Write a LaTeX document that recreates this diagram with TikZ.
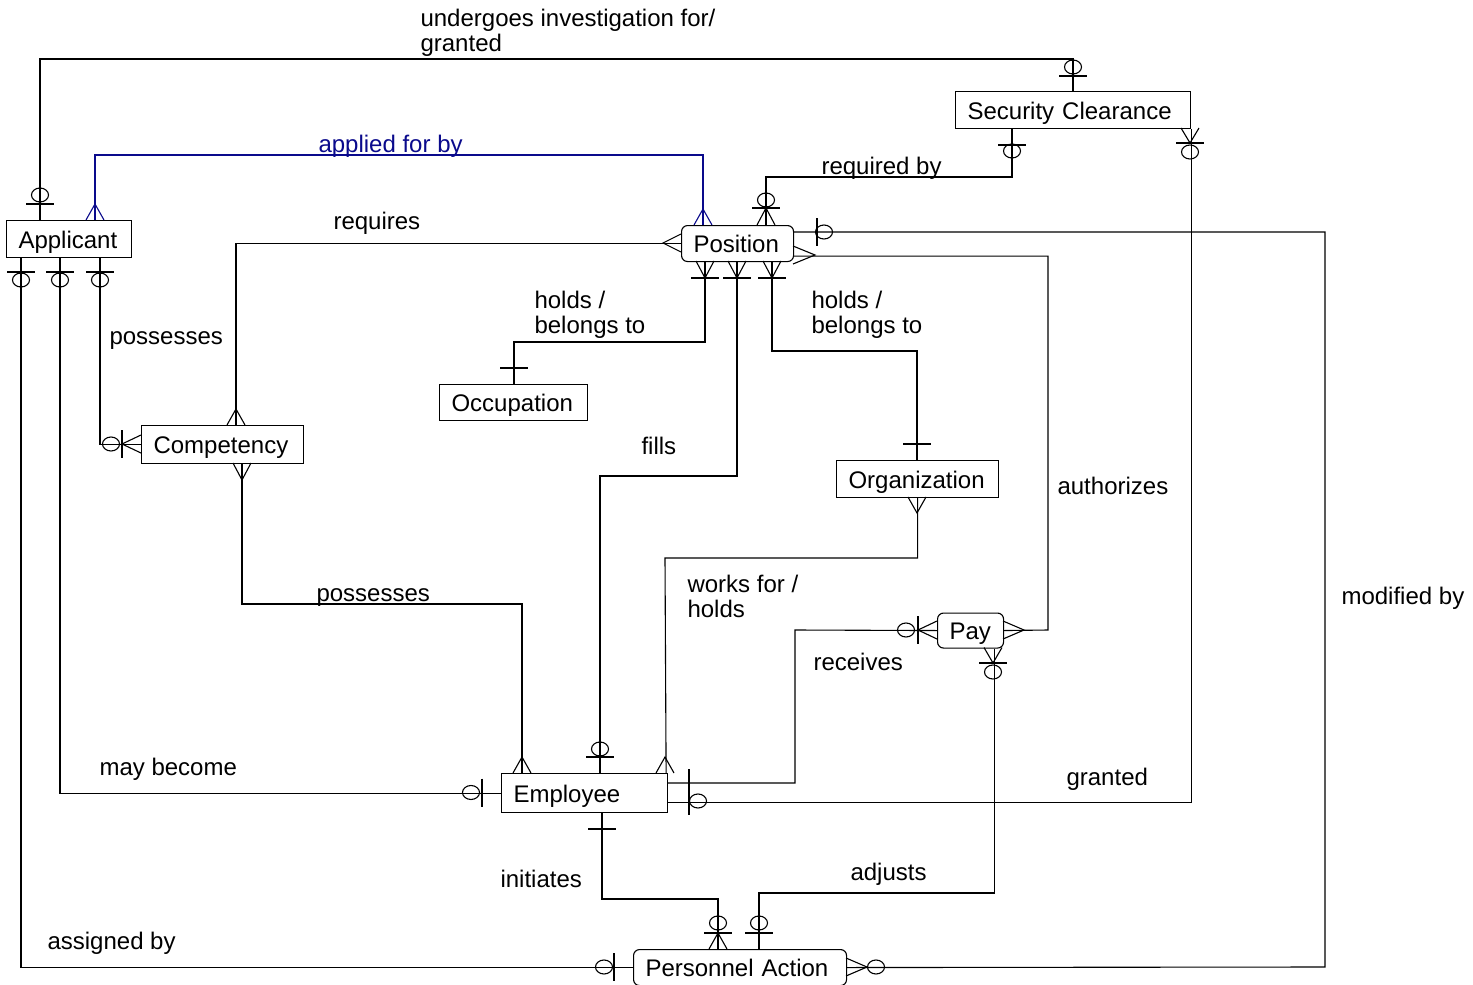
\documentclass[tikz,border=0pt]{standalone}
\usepackage{fontspec}
\setmainfont{Liberation Sans}
\usetikzlibrary{calc}
\definecolor{erblue}{RGB}{10,10,140}
\newcommand\erHbar[2]{\draw (#1-14,#2) -- (#1+14,#2);}
\newcommand\erVbar[2]{\draw (#1,#2-14) -- (#1,#2+14);}
\newcommand\erRing[2]{\draw (#1,#2) ellipse [x radius=8.5, y radius=7];}
\newcommand\erCrowV[3]{\draw (#1-9,#3) -- (#1,#2) -- (#1+9,#3);}
\newcommand\erCrowH[3]{\draw (#3,#1-9) -- (#2,#1) -- (#3,#1+9);}
\begin{document}
\begin{tikzpicture}[x=1pt,y=-1pt,line width=1.1pt,
  every node/.style={font=\fontsize{24}{29}\selectfont},
  ent/.style={draw, anchor=north west, inner xsep=12pt, inner ysep=0pt, align=left, text height=20pt, text depth=2pt},
  rent/.style={ent, rounded corners=6pt},
  lbl/.style={anchor=base west, inner sep=0pt}]
\fill[white] (0,0) rectangle (1473,985);
\useasboundingbox (0,0) rectangle (1473,985);

% entities
\node[ent,  text width=101pt, minimum height=37pt] (app)  at (6,220)    {Applicant};
\node[rent, text width=88pt,  minimum height=36pt] (pos)  at (681,225)  {Position};
\node[ent,  text width=211pt, minimum height=37pt] (sec)  at (955,91)   {Security Clearance};
\node[ent,  text width=124pt, minimum height=36pt] (occ)  at (439,384)  {Occupation};
\node[ent,  text width=138pt, minimum height=38pt] (comp) at (141,425)  {Competency};
\node[ent,  text width=138pt, minimum height=37pt] (org)  at (836,460)  {Organization};
\node[ent,  text width=142pt, minimum height=39pt] (emp)  at (501,773)  {Employee};
\node[rent, text width=42pt,  minimum height=35pt] (pay)  at (937,612.5) {Pay};
\node[rent, text width=189pt, minimum height=36pt] (pa)   at (633,949)  {Personnel Action};

% 1 undergoes investigation for / granted
\draw ($(app.north west)+(34,0)$) |- (1073,59) -- ($(sec.north west)+(118,0)$);
\erHbar{40}{204}\erRing{40}{195}
\erRing{1073}{67}\erHbar{1073}{76}

% 2 applied for by (blue)
\begin{scope}[draw=erblue]
\draw ($(app.north west)+(89,0)$) |- (703,155) -- ($(pos.north west)+(22,0)$);
\erCrowV{95}{204}{220}
\erCrowV{703}{209}{225}
\end{scope}

% 3 requires
\draw (pos.west) -| ($(comp.north west)+(95,0)$);
\erCrowH{243}{663}{681}
\erCrowV{236}{409}{425}

% 4 possesses (applicant - competency)
\draw ($(app.south west)+(94,0)$) |- (comp.west);
\erHbar{100}{272}\erRing{100}{280}
\erCrowH{444}{122}{141}\erVbar{122}{444}\erRing{111}{444}

% 5 may become
\draw ($(app.south west)+(54,0)$) |- (emp.west);
\erHbar{60}{272}\erRing{60}{280}
\erVbar{482}{792.5}\erRing{471}{792.5}

% 6 assigned by
\draw ($(app.south west)+(15,0)$) |- (pa.west);
\erHbar{21}{272}\erRing{21}{280}
\erVbar{614}{967}\erRing{604}{967}

% 7 required by
\draw ($(sec.south west)+(57,0)$) |- (766,177) -- ($(pos.north west)+(85,0)$);
\erHbar{1012}{145}\erRing{1012}{151}
\erCrowV{766}{208}{225}\erHbar{766}{208}\erRing{766}{200}

% 8 granted
\draw (sec.south east) |- ($(emp.south east)+(0,-11)$);
\erCrowV{1190}{143}{128}\erHbar{1190}{143}\erRing{1190}{152}
\erVbar{689}{801}\erRing{698}{801}

% 9 modified by
\draw ($(pos.north east)+(0,7)$) -| (1325,967) -- (pa.east);
\erVbar{817}{232}\erRing{824}{232}
\erCrowH{967}{867}{846}\erRing{876}{967}

% 10 holds / belongs to (occupation)
\draw ($(pos.south west)+(24,0)$) |- (514,342) -- ($(occ.north west)+(75,0)$);
\erCrowV{705}{278}{261}\erHbar{705}{278}
\erHbar{514}{368}

% 11 fills
\draw ($(pos.south west)+(56,0)$) |- (600,476) -- ($(emp.north west)+(99,0)$);
\erCrowV{737}{278}{261}\erHbar{737}{278}
\erHbar{600}{757}\erRing{600}{749}

% 12 holds / belongs to (organization)
\draw ($(pos.south west)+(91,0)$) |- (917,351) -- ($(org.north west)+(81,0)$);
\erCrowV{772}{278}{261}\erHbar{772}{278}
\erHbar{917}{444}

% 13 authorizes
\draw ($(pos.south east)+(0,-6)$) -| (1048,630) -- (pay.east);
\erCrowH{255}{815}{793}
\erCrowH{630}{1024}{1003}

% 14 works for / holds
\draw (org.south) |- (665,558) -- ($(emp.north east)+(-2,0)$);
\erCrowV{917}{513}{497}
\erCrowV{665}{757}{773}

% 15 possesses (competency - employee)
\draw ($(comp.south west)+(101,0)$) |- (522,604) -- ($(emp.north west)+(21,0)$);
\erCrowV{242}{480}{463}
\erCrowV{522}{757}{773}

% 16 receives
\draw ($(emp.north east)+(0,10)$) -| (795,630) -- (pay.west);
\erVbar{689}{783}
\erCrowH{630}{918}{937}\erVbar{918}{630}\erRing{906}{630}

% 17 adjusts
\draw ($(pay.south east)+(-10,0)$) |- (759,893) -- ($(pa.north west)+(126,0)$);
\erCrowV{993}{663}{647.5}\erHbar{993}{663}\erRing{993}{672}
\erHbar{759}{933}\erRing{759}{923}

% 18 initiates
\draw ($(emp.south west)+(101,0)$) |- (718,899) -- ($(pa.north west)+(85,0)$);
\erHbar{602}{829}
\erCrowV{718}{933}{949}\erHbar{718}{933}\erRing{718}{923}

% labels
\node[lbl] (l1a) at (420,26) {undergoes investigation for/};
\node[lbl] (l1b) at (420,51) {granted};
\node[lbl, text=erblue] (l2) at (318,152) {applied for by};
\node[lbl] (l3) at (333,229) {requires};
\node[lbl] (l4) at (109,344) {possesses};
\node[lbl] (l5) at (99,775) {may become};
\node[lbl] (l6) at (47,949) {assigned by};
\node[lbl] (l7) at (821,174) {required by};
\node[lbl] (l8) at (1066,785) {granted};
\node[lbl] (l9) at (1341,604) {modified by};
\node[lbl] (l10a) at (534,308) {holds /};
\node[lbl] (l10b) at (534,333) {belongs to};
\node[lbl] (l11) at (641,454) {fills};
\node[lbl] (l12a) at (811,308) {holds /};
\node[lbl] (l12b) at (811,333) {belongs to};
\node[lbl] (l13) at (1057,494) {authorizes};
\node[lbl] (l14a) at (687,592) {works for /};
\node[lbl] (l14b) at (687,617) {holds};
\node[lbl] (l15) at (316,601) {possesses};
\node[lbl] (l16) at (813,670) {receives};
\node[lbl] (l17) at (850,880) {adjusts};
\node[lbl] (l18) at (500,887) {initiates};
\end{tikzpicture}
\end{document}
